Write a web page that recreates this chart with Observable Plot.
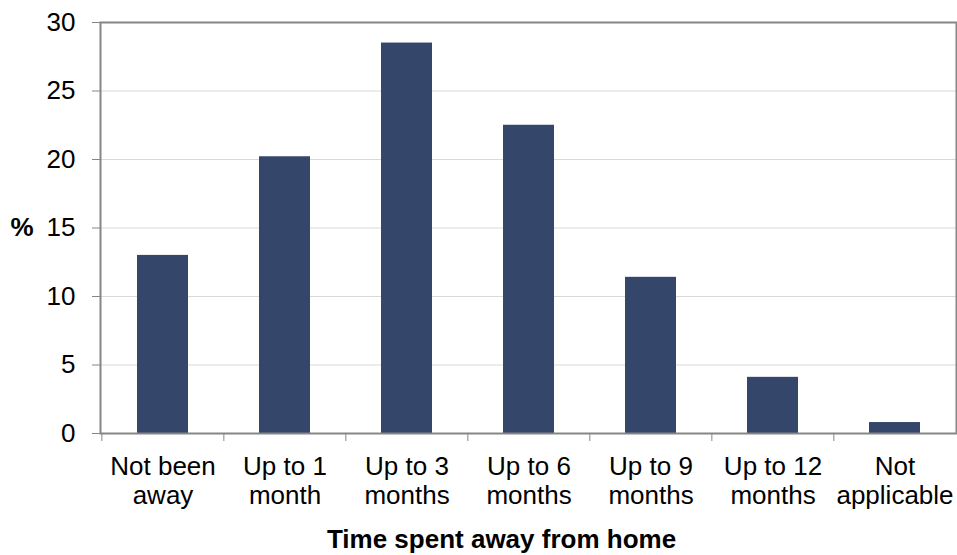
<!DOCTYPE html>
<html>
<head>
<meta charset="utf-8">
<script src="https://cdn.jsdelivr.net/npm/d3@7"></script>
<script src="https://cdn.jsdelivr.net/npm/@observablehq/plot@0.6"></script>
<style>
  html, body { margin: 0; padding: 0; background: #fff; }
  #chart svg { display: block; }
</style>
</head>
<body>
<div id="chart"></div>
<script>
// Time spent away from home (%)
const categories = [
  "Not been\naway",
  "Up to 1\nmonth",
  "Up to 3\nmonths",
  "Up to 6\nmonths",
  "Up to 9\nmonths",
  "Up to 12\nmonths",
  "Not\napplicable"
];
const percentages = [13.0, 20.2, 28.5, 22.5, 11.4, 4.1, 0.8];
const yTicks = [0, 5, 10, 15, 20, 25, 30];
const xTitle = "Time spent away from home";
const yTitle = "%";

const data = categories.map((c, i) => ({category: c, value: percentages[i]}));

const W = 957, H = 555;
const margin = {top: 22, right: 1, bottom: 122, left: 100};
const step = (W - margin.left - margin.right) / categories.length;
const axisGray = "#868686";
const font = "'Liberation Sans', Arial, Helvetica, sans-serif";

const chart = Plot.plot({
  width: W,
  height: H,
  marginTop: margin.top,
  marginRight: margin.right,
  marginBottom: margin.bottom,
  marginLeft: margin.left,
  style: {fontFamily: font, fontSize: "26px", color: "#000", background: "#fff"},
  x: {domain: categories, paddingInner: 0.583, paddingOuter: 0.2915, axis: null},
  y: {domain: [0, 30], axis: null},
  marks: [
    Plot.gridY(yTicks.filter(t => t > 0 && t < 30), {stroke: "#d9d9d9", strokeOpacity: 1, strokeWidth: 1}),
    Plot.barY(data, {x: "category", y: "value", fill: "#34476b"}),
    Plot.frame({stroke: axisGray, strokeWidth: 2}),
    // y axis ticks and labels
    Plot.axisY({
      ticks: yTicks, tickSize: 8, tickPadding: 17, stroke: axisGray,
      fill: "#000", fontSize: 26, label: null
    }),
    // category labels under each bar
    Plot.axisX({
      tickSize: 0, tickPadding: 21, fill: "#000", fontSize: 26,
      lineHeight: 1.12, label: null
    }),
    // tick marks on the boundaries between categories
    Plot.axisX({
      tickSize: 8, stroke: axisGray, fill: "none", dx: -step / 2, label: null
    }),
    Plot.text([yTitle], {
      frameAnchor: "left", dx: -90, textAnchor: "start",
      fontWeight: "bold", fontSize: 26, fill: "#000"
    }),
    Plot.text([xTitle], {
      frameAnchor: "bottom", dx: -27, dy: 96, textAnchor: "middle",
      lineAnchor: "top", fontWeight: "bold", fontSize: 26, fill: "#000"
    })
  ]
});

document.getElementById("chart").appendChild(chart);
</script>
</body>
</html>
